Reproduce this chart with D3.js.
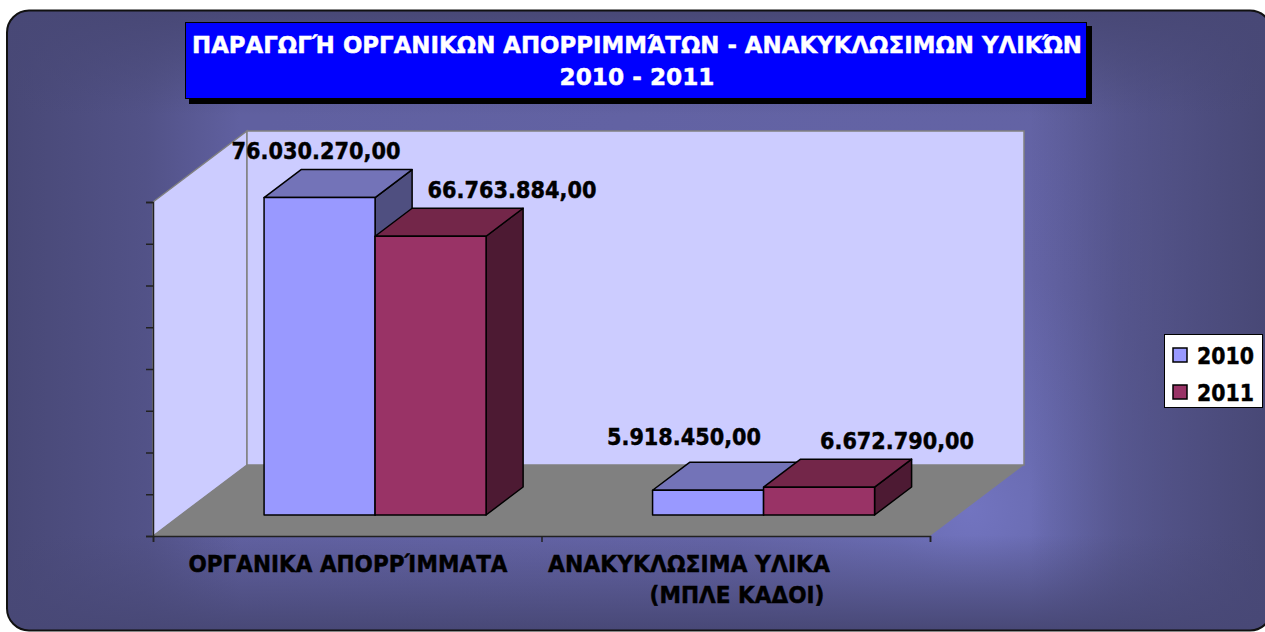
<!DOCTYPE html>
<html>
<head>
<meta charset="utf-8">
<style>
  html, body { margin: 0; padding: 0; background: #fff; }
  svg { display: block; }
  text { font-family: "DejaVu Sans", Verdana, sans-serif; font-weight: bold; stroke-width: 0.45px; }
</style>
<script src="https://cdn.jsdelivr.net/npm/d3@7"></script>
</head>
<body>
<div id="chart"></div>
<script>
var categories = [['ΟΡΓΑΝΙΚΑ ΑΠΟΡΡΊΜΜΑΤΑ'], ['ΑΝΑΚΥΚΛΩΣΙΜΑ ΥΛΙΚΑ', '(ΜΠΛΕ ΚΑΔΟΙ)']];
var years = ['2010', '2011'];
var values2010 = [76030270, 5918450];
var values2011 = [66763884, 6672790];
var valueLabels2010 = ['76.030.270,00', '5.918.450,00'];
var valueLabels2011 = ['66.763.884,00', '6.672.790,00'];
var titleLines = ['ΠΑΡΑΓΩΓΉ ΟΡΓΑΝΙΚΩΝ ΑΠΟΡΡΙΜΜΆΤΩΝ - ΑΝΑΚΥΚΛΩΣΙΜΩΝ ΥΛΙΚΏΝ', '2010 - 2011'];
var yTicks = [0, 10e6, 20e6, 30e6, 40e6, 50e6, 60e6, 70e6, 80e6];

var width = 1265, height = 632;
var svg = d3.select('#chart').append('svg').attr('width', width).attr('height', height);
var defs = svg.append('defs');

// Panel: a soft glow, then each edge fades to the dark colour on top of it
var panel = { x: 7, y: 10.5, w: 1265, h: 620, r: 22 };
var edgeColor = '#484876';

var glow = defs.append('radialGradient').attr('id', 'glow').attr('gradientUnits', 'userSpaceOnUse')
  .attr('cx', 970).attr('cy', 510).attr('r', 800);
[[0, '#7274c0'], [0.1, '#6a6cb2'], [0.3, '#6464a6'], [1, '#6060a0']].forEach(function(s) {
  glow.append('stop').attr('offset', s[0]).attr('stop-color', s[1]);
});

// [x1, y1, x2, y2, opacity half way]
var edgeFades = [
  [7, 0, 240, 0, [[0, 1], [0.6, 0.58], [1, 0]]],
  [1265, 0, 1030, 0, [[0, 1], [0.62, 0.53], [1, 0]]],
  [0, 10, 0, 115, [[0, 1], [0.48, 0.55], [1, 0]]],
  [0, 631, 0, 535, [[0, 1], [0.53, 0.45], [0.9, 0.1], [1, 0]]]
];

function panelRect(sel) {
  return sel.append('rect').attr('x', panel.x).attr('y', panel.y)
    .attr('width', panel.w).attr('height', panel.h).attr('rx', panel.r);
}

panelRect(svg).attr('fill', 'url(#glow)');
edgeFades.forEach(function(e, i) {
  var grad = defs.append('linearGradient').attr('id', 'edge' + i).attr('gradientUnits', 'userSpaceOnUse')
    .attr('x1', e[0]).attr('y1', e[1]).attr('x2', e[2]).attr('y2', e[3]);
  e[4].forEach(function(s) {
    grad.append('stop').attr('offset', s[0]).attr('stop-color', edgeColor).attr('stop-opacity', s[1]);
  });
  panelRect(svg).attr('fill', 'url(#edge' + i + ')');
});
panelRect(svg).attr('fill', 'none').attr('stroke', '#111').attr('stroke-width', 2);

// Title box
svg.append('rect').attr('x', 189).attr('y', 26).attr('width', 903).attr('height', 78).attr('fill', '#000');
svg.append('rect').attr('x', 185.5).attr('y', 22.5).attr('width', 901).attr('height', 76)
  .attr('fill', '#0000ff').attr('stroke', '#000');
svg.selectAll('.title').data(titleLines).enter().append('text').attr('class', 'title')
  .attr('x', 637).attr('y', function(d, i) { return 53 + i * 32; })
  .attr('text-anchor', 'middle').attr('fill', '#fff').attr('stroke', '#fff').attr('font-size', 23)
  .attr('textLength', function(d, i) { return i ? 155 : 890; })
  .attr('lengthAdjust', 'spacingAndGlyphs')
  .text(function(d) { return d; });

// 3D plot: front plane scales plus a depth shift towards the back wall
var x0 = d3.scaleBand().domain(d3.range(categories.length)).range([153, 930]);
var x1 = d3.scaleBand().domain(d3.range(years.length)).range([0, x0.bandwidth()]).paddingOuter(0.75).paddingInner(0);
var y = d3.scaleLinear().domain([0, 80e6]).range([536, 202]);
var depth = { dx: 94, dy: -71 };
var barDepthFrom = 0.296, barDepthTo = 0.69;

function shift(p, t) { return [p[0] + depth.dx * t, p[1] + depth.dy * t]; }
function poly(pts) { return pts.join(' '); }

var plot = svg.append('g');
var xL = x0.range()[0], xR = x0.range()[1], yB = y(0), yT = y(80e6);

// side wall, back wall, floor
plot.append('polygon').attr('points', poly([[xL, yB], [xL, yT], shift([xL, yT], 1), shift([xL, yB], 1)]))
  .attr('fill', '#ccccff').attr('stroke', '#808080').attr('stroke-width', 1.5);
plot.append('polygon').attr('points', poly([shift([xL, yB], 1), shift([xL, yT], 1), shift([xR, yT], 1), shift([xR, yB], 1)]))
  .attr('fill', '#ccccff').attr('stroke', '#808080').attr('stroke-width', 1.5);
plot.append('polygon').attr('points', poly([[xL, yB], [xR, yB], shift([xR, yB], 1), shift([xL, yB], 1)]))
  .attr('fill', '#808080');

// axes
var yAxis = d3.axisLeft(y).tickValues(yTicks).tickSize(7).tickFormat('');
plot.append('g').attr('transform', 'translate(' + xL + ',0)').call(yAxis);
var xAxis = d3.axisBottom(d3.scaleLinear().domain([0, 2]).range([xL, xR])).tickValues([0, 1, 2]).tickSize(6).tickFormat('');
plot.append('g').attr('transform', 'translate(0,' + yB + ')').call(xAxis);
plot.selectAll('.domain').attr('stroke', '#222').attr('stroke-width', 1.5);
plot.selectAll('.tick line').attr('stroke', '#222').attr('stroke-width', 1.5);

// bars, back to front and left to right
var seriesFill = [
  { front: '#9999ff', top: '#7373b8', side: '#4f4f80', values: values2010, labels: valueLabels2010 },
  { front: '#993366', top: '#732649', side: '#4d1a33', values: values2011, labels: valueLabels2011 }
];
var barsG = plot.append('g');
categories.forEach(function(c, ci) {
  seriesFill.forEach(function(s, si) {
    var a = x0(ci) + x1(si), b = a + x1.bandwidth();
    var f = barDepthFrom, t = barDepthTo;
    var v = y(s.values[ci]);
    var g = barsG.append('g').attr('stroke', '#000').attr('stroke-width', 1.5).attr('stroke-linejoin', 'round');
    g.append('polygon').attr('fill', s.side)
      .attr('points', poly([shift([b, yB], f), shift([b, v], f), shift([b, v], t), shift([b, yB], t)]));
    g.append('polygon').attr('fill', s.top)
      .attr('points', poly([shift([a, v], f), shift([b, v], f), shift([b, v], t), shift([a, v], t)]));
    g.append('polygon').attr('fill', s.front)
      .attr('points', poly([shift([a, yB], f), shift([a, v], f), shift([b, v], f), shift([b, yB], f)]));
  });
});

// value labels
var labelPos = [[[316, 159], [512, 198]], [[684, 445], [897, 449]]];
categories.forEach(function(c, ci) {
  seriesFill.forEach(function(s, si) {
    svg.append('text').attr('x', labelPos[ci][si][0]).attr('y', labelPos[ci][si][1])
      .attr('text-anchor', 'middle').attr('font-size', 23).attr('fill', '#000').attr('stroke', '#000')
      .attr('textLength', ci ? 154 : 169).attr('lengthAdjust', 'spacingAndGlyphs')
      .text(s.labels[ci]);
  });
});

// category labels
var catPos = [[[348, 571.5]], [[689, 571.5], [737, 602.5]]];
var catLen = [[319], [282, 175]];
categories.forEach(function(lines, ci) {
  lines.forEach(function(line, li) {
    svg.append('text').attr('x', catPos[ci][li][0]).attr('y', catPos[ci][li][1])
      .attr('text-anchor', 'middle').attr('font-size', 23).attr('fill', '#000').attr('stroke', '#000')
      .attr('textLength', catLen[ci][li]).attr('lengthAdjust', 'spacingAndGlyphs')
      .text(line);
  });
});

// legend
var legend = svg.append('g');
legend.append('rect').attr('x', 1164.5).attr('y', 334.5).attr('width', 98).attr('height', 73)
  .attr('fill', '#fff').attr('stroke', '#000').attr('stroke-width', 1);
years.forEach(function(yr, i) {
  var ly = 348 + i * 37;
  legend.append('rect').attr('x', 1173).attr('y', ly).attr('width', 14).attr('height', 14)
    .attr('fill', seriesFill[i].front).attr('stroke', '#000').attr('stroke-width', 1.5);
  legend.append('text').attr('x', 1197).attr('y', ly + 16).attr('font-size', 23).attr('fill', '#000').attr('stroke', '#000')
    .attr('textLength', 57).attr('lengthAdjust', 'spacingAndGlyphs').text(yr);
});
</script>
</body>
</html>
